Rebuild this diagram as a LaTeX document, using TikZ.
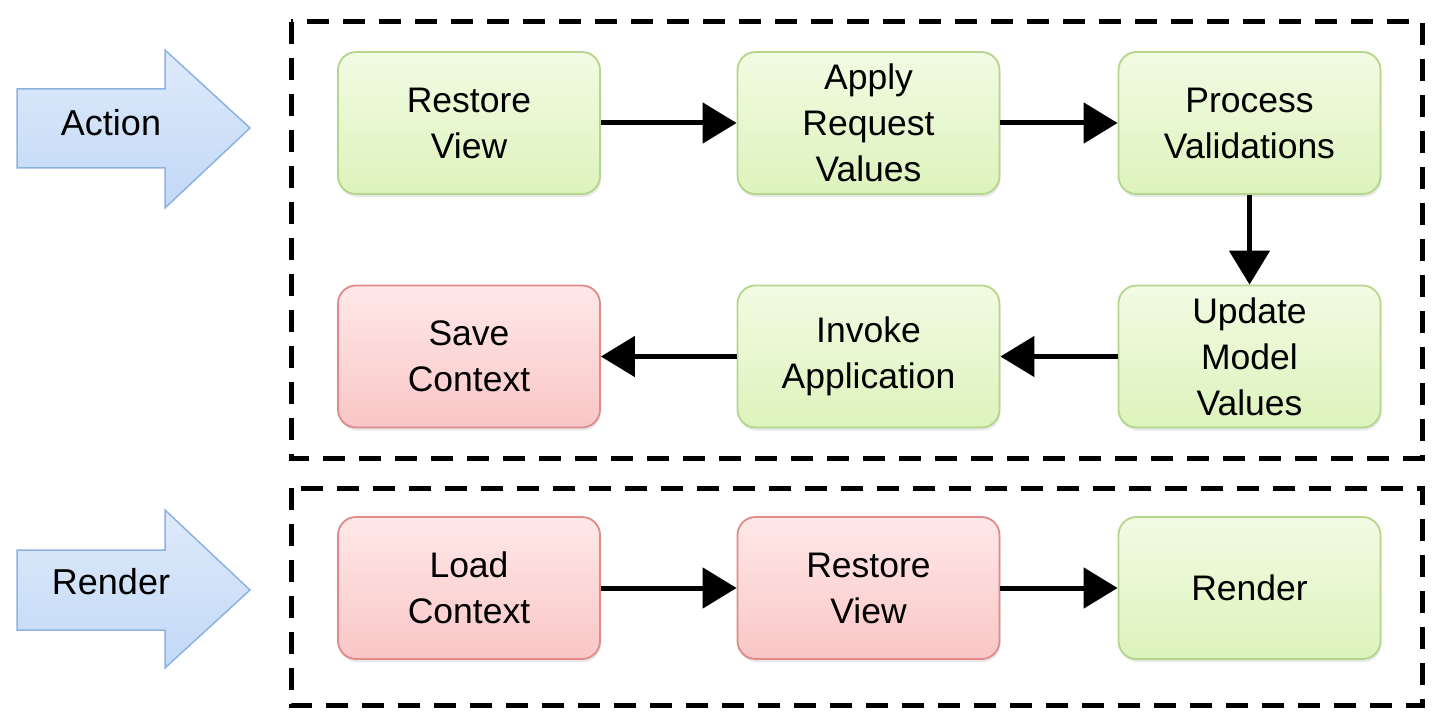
\documentclass[tikz,border=0pt]{standalone}
\usepackage{fontspec}
\setmainfont{Liberation Sans}
\usetikzlibrary{arrows.meta,shadows}
\definecolor{gtop}{HTML}{F2FBE3}
\definecolor{gbot}{HTML}{DDF3BC}
\definecolor{gline}{HTML}{B4D68A}
\definecolor{rtop}{HTML}{FFE8E8}
\definecolor{rbot}{HTML}{F9C6C6}
\definecolor{rline}{HTML}{E08A8A}
\definecolor{btop}{HTML}{DDEAFB}
\definecolor{bbot}{HTML}{C3D9F6}
\definecolor{bline}{HTML}{8DB2E2}
\tikzset{
  phase/.style={rounded corners=18pt, line width=1.8pt, minimum width=262pt, minimum height=142pt,
    align=center, font=\fontsize{35.5}{46}\selectfont, inner sep=0pt,
    drop shadow={opacity=0.18, shadow xshift=1pt, shadow yshift=-3pt}},
  greenbox/.style={phase, draw=gline, top color=gtop, bottom color=gbot},
  redbox/.style={phase, draw=rline, top color=rtop, bottom color=rbot},
  flow/.style={line width=5pt, -{Triangle[length=34pt,width=40pt]}},
  frame/.style={line width=5pt, dash pattern=on 22pt off 14pt},
  bigarrow/.style={line width=1.5pt, draw=bline, top color=btop, bottom color=bbot},
  arrowtext/.style={font=\fontsize{36}{40}\selectfont, inner sep=0pt}
}
\begin{document}
\begin{tikzpicture}[x=1pt,y=-1pt]
\useasboundingbox (0,0) rectangle (1446,722);
% frames
\draw[frame] (291,22) rectangle (1422,458);
\draw[frame] (291,488) rectangle (1422,705);
% block arrows
\draw[bigarrow] (17,89) -- (165,89) -- (165,50) -- (250,128) -- (165,208) -- (165,168) -- (17,168) -- cycle;
\node[arrowtext] (action) at (111,123) {Action};
\draw[bigarrow] (17,550) -- (165,550) -- (165,510) -- (250,590) -- (165,668) -- (165,630) -- (17,630) -- cycle;
\node[arrowtext] (render) at (111,582) {Render};
% row 1
\node[greenbox] (rv) at (469,123) {Restore\\View};
\node[greenbox] (arv) at (868.5,123) {Apply\\Request\\Values};
\node[greenbox] (pv) at (1249.5,123) {Process\\Validations};
% row 2
\node[redbox] (sc) at (469,356.5) {Save\\Context};
\node[greenbox] (ia) at (868.5,356.5) {Invoke\\Application};
\node[greenbox] (umv) at (1249.5,356.5) {Update\\Model\\Values};
% row 3
\node[redbox] (lc) at (469,588) {Load\\Context};
\node[redbox] (rv2) at (868.5,588) {Restore\\View};
\node[greenbox] (rn) at (1249.5,588) {Render};
% connectors
\draw[flow] (rv.east) -- (arv.west);
\draw[flow] (arv.east) -- (pv.west);
\draw[flow] (pv.south) -- (umv.north);
\draw[flow] (umv.west) -- (ia.east);
\draw[flow] (ia.west) -- (sc.east);
\draw[flow] (lc.east) -- (rv2.west);
\draw[flow] (rv2.east) -- (rn.west);
\end{tikzpicture}
\end{document}
